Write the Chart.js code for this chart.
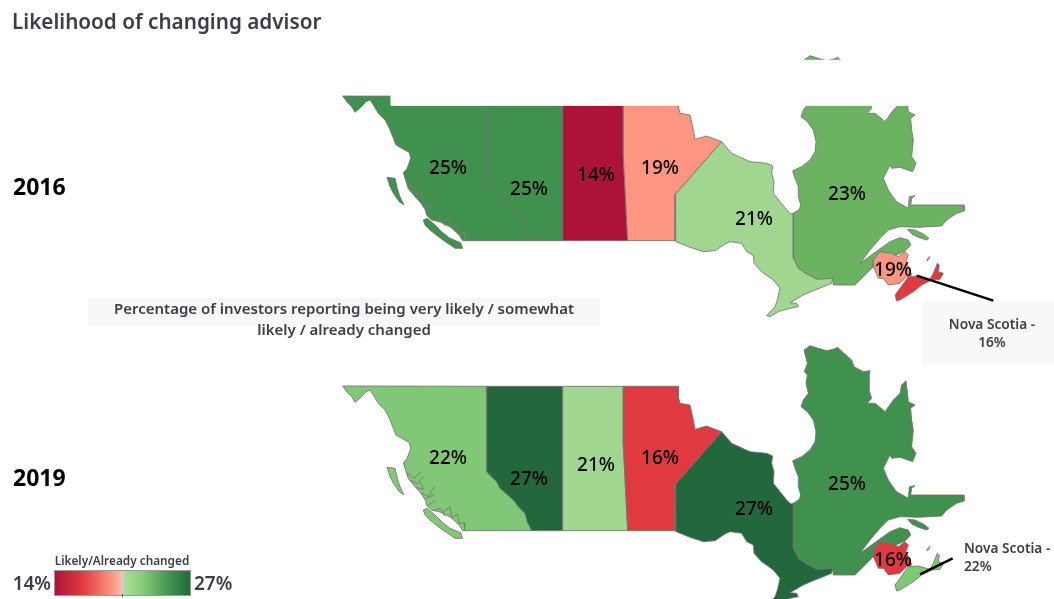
<!DOCTYPE html>
<html lang="en">
<head>
<meta charset="UTF-8">
<title>Likelihood of changing advisor</title>
<script src="https://cdn.jsdelivr.net/npm/chart.js@4/dist/chart.umd.min.js"></script>
<style>
  html, body { margin: 0; background: #fff; }
  canvas { display: block; }
</style>
</head>
<body>
<canvas id="mapChart" width="1054" height="599"></canvas>
<script>
// survey results, one value per province
const provinces = ['BC', 'AB', 'SK', 'MB', 'ON', 'QC', 'NB', 'NS'];
const values2016 = [25, 25, 14, 19, 21, 23, 19, 16];
const values2019 = [22, 27, 21, 16, 27, 25, 16, 22];
const years = ['2016', '2019'];

// colour ramp, same one the legend shows
const rampValues = [14, 16, 19, 21, 22, 23, 25, 27];
const rampColors = ['#ad1238', '#e0393f', '#fc9680', '#a0d68f', '#80c776', '#6bb360', '#40904e', '#23673d'];

// province outlines. west ones start at x=1020, east ones at x=2010
const bcBorder = [[440,139],[440,395],[452,408],[470,425],[480,445],[500,462],[520,480],[535,500],[555,520],[562,545],[575,572]];
const bcCoast = [[372,572],[368,572],[358,556],[350,548],[332,532],[300,516],[275,510],[260,496],[256,480],[240,456],[225,440],[205,416],[198,395],[190,368],[200,358],[205,345],[212,325],[208,308],[185,295],[168,285],[160,265],[148,235],[135,210],[115,190],[100,165],[90,150],[78,155],[65,170],[45,187],[35,170],[20,155],[8,138]];
const bcMain = [[8,138], ...bcBorder, ...bcCoast];
const vancouverIsland = [[250,510],[262,505],[285,525],[305,545],[330,565],[362,578],[368,595],[345,595],[320,578],[295,560],[270,540],[255,525]];
const haidaGwaii = [[141,382],[165,385],[172,415],[180,440],[192,465],[178,455],[160,430],[150,410]];
const fjords = [
    [[200,398],[222,415],[245,395]],
    [[212,420],[232,432],[250,408]],
    [[228,442],[250,448],[240,425]],
    [[242,458],[265,470],[285,438]],
    [[256,478],[285,462]],
    [[262,497],[285,482]],
    [[280,512],[300,505],[315,528]],
    [[308,518],[330,500],[336,535]],
    [[335,535],[352,522],[358,552]],
    [[352,552],[372,548],[374,570]]
];
const alberta = [...bcBorder, [668,572], [668,139]];
const saskatchewan = [[668,139],[850,139],[850,318],[863,572],[668,572]];
const manitoba = [[850,139],[1015,139],[1015,170],[1020,190],[1050,195],[1060,240],[1065,268],[1100,258],[1145,275],[1007,432],[1005,572],[863,572],[850,318]];

const quebecBorder = [[370,490],[370,625],[385,655],[410,672],[440,688],[488,685]];
const ontario = [[155,275],[185,310],[240,335],[290,340],[308,348],[305,370],[312,395],[310,430],[330,455],[350,480],[362,492],...quebecBorder,[485,700],[460,710],[430,722],[400,735],[360,758],[380,760],[385,770],[360,775],[325,785],[300,800],[290,797],[315,770],[322,750],[330,715],[310,690],[275,665],[252,640],[250,615],[230,605],[215,580],[180,575],[165,582],[135,602],[100,605],[60,592],[18,575],[15,572],[17,432]];
const quebec = [[370,490],[388,478],[392,465],[385,440],[385,410],[375,385],[368,362],[395,350],[420,330],[435,305],[438,275],[430,240],[412,215],[393,200],[400,180],[415,160],[408,130],[412,105],[403,95],[412,70],[402,30],[420,17],[445,25],[470,32],[490,28],[503,22],[520,38],[545,60],[552,80],[580,95],[600,92],[597,110],[597,150],[605,175],[592,190],[615,190],[640,210],[645,215],[670,180],[690,160],[695,135],[708,122],[712,155],[715,185],[735,195],[722,205],[725,240],[730,270],[725,320],[738,340],[728,365],[690,352],[665,355],[660,345],[650,365],[640,385],[655,420],[665,435],[680,455],[715,475],[718,440],[735,437],[725,445],[722,465],[882,465],[882,483],[860,490],[830,510],[815,528],[745,532],[690,530],[655,540],[630,565],[600,600],[570,640],[595,622],[625,600],[660,575],[690,563],[715,570],[722,585],[705,603],[672,618],[625,610],[610,630],[610,650],[590,670],[570,690],[555,705],[490,705],[488,685],[440,688],[410,672],[385,655],[370,625]];
const anticosti = [[713,538],[735,540],[760,552],[777,565],[770,570],[745,562],[725,552]];
const newBrunswick = [[610,630],[630,605],[665,610],[685,620],[705,605],[715,615],[708,635],[715,650],[725,675],[710,680],[690,700],[655,705],[640,685],[625,685],[610,650]];
const novaScotia = [[675,735],[690,715],[715,680],[745,678],[780,688],[790,670],[802,640],[808,645],[805,665],[820,670],[810,688],[785,690],[755,705],[730,725],[690,750],[680,753]];
const pei = [[770,632],[775,622],[780,620],[776,630]];

// leader lines to the Nova Scotia notes
const leader2016 = [[740,677],[970,752]];
const leader2019 = [[750,703],[848,655]];

const WEST = 1020, EAST = 2010;
const YEAR_Y = [150, 1020];
// the 2016 map is hidden behind a white band on top
const maskBand = [[1173,181],[3162,181],[3162,316],[1173,316]];

const labelX = [1344, 1587, 1788, 1980, 2262, 2541, 2679];
const labelY = [504, 567, 525, 504, 657, 582, 810];

function colorOf(v) {
    return rampColors[rampValues.indexOf(v)];
}

function place(pts, dx, dy) {
    return pts.map(p => ({x: p[0] + dx, y: p[1] + dy}));
}

function shape(pts, color, border) {
    return {
        data: pts.concat([pts[0]]),
        showLine: true,
        fill: 'shape',
        backgroundColor: color,
        borderColor: border,
        borderWidth: 1,
        pointRadius: 0,
        tension: 0
    };
}

function stroke(pts, color, width) {
    return {data: pts, showLine: true, fill: false, borderColor: color, borderWidth: width, pointRadius: 0, tension: 0};
}

const datasets = [];
years.forEach((year, i) => {
    const vals = i == 0 ? values2016 : values2019;
    const dy = YEAR_Y[i];
    const edge = 'rgba(115,115,115,0.85)';
    const add = (outline, dx, name) => datasets.push(shape(place(outline, dx, dy), colorOf(vals[provinces.indexOf(name)]), edge));
    add(bcMain, WEST, 'BC');
    add(vancouverIsland, WEST, 'BC');
    add(haidaGwaii, WEST, 'BC');
    fjords.forEach(f => datasets.push(stroke(place(f, WEST, dy), '#7d7d7d', 1)));
    add(alberta, WEST, 'AB');
    add(saskatchewan, WEST, 'SK');
    add(manitoba, WEST, 'MB');
    add(quebec, EAST, 'QC');
    add(anticosti, EAST, 'QC');
    add(ontario, EAST, 'ON');
    add(newBrunswick, EAST, 'NB');
    add(novaScotia, EAST, 'NS');
    datasets.push(shape(place(pei, EAST, dy), '#e4e4e4', edge));
    if (i == 0) datasets.push(shape(place(maskBand, 0, 0), '#ffffff', '#ffffff'));
    const lead = i == 0 ? leader2016 : leader2019;
    datasets.push(stroke(place(lead, EAST, dy), '#000', 2.5));
});
// chart.js paints dataset 0 last, we want them in list order
datasets.forEach((d, i) => { d.order = datasets.length - i; });

const textColor = '#3d3d47';

function put(ctx, str, x, y, font, color, align) {
    ctx.font = font;
    ctx.fillStyle = color;
    ctx.textAlign = align || 'left';
    ctx.textBaseline = 'middle';
    ctx.fillText(str, x, y + 1.5);
}

const decor = {
    id: 'decor',
    beforeDatasetsDraw(chart) {
        const ctx = chart.ctx;
        ctx.save();
        ctx.fillStyle = '#f8f8f8';
        ctx.fillRect(88, 298, 512, 28);
        ctx.fillRect(922, 301, 132, 64);
        ctx.restore();
    },
    afterDatasetsDraw(chart) {
        const ctx = chart.ctx;
        const sx = chart.scales.x, sy = chart.scales.y;
        ctx.save();
        put(ctx, 'Likelihood of changing advisor', 12, 22, '600 20.7px "Noto Sans"', textColor);
        put(ctx, years[0], 13, 187, '700 23px "Noto Sans"', '#000');
        put(ctx, years[1], 13, 478, '700 23px "Noto Sans"', '#000');
        put(ctx, 'Percentage of investors reporting being very likely / somewhat', 344, 308, '600 15px "Noto Sans"', textColor, 'center');
        put(ctx, 'likely / already changed', 344, 329, '600 15px "Noto Sans"', textColor, 'center');
        put(ctx, 'Nova Scotia -', 992, 323.5, '600 13.7px "Noto Sans"', textColor, 'center');
        put(ctx, values2016[7] + '%', 992, 342, '600 13.7px "Noto Sans"', textColor, 'center');
        put(ctx, 'Nova Scotia -', 964, 548, '600 13.7px "Noto Sans"', textColor);
        put(ctx, values2019[7] + '%', 964, 566, '600 13.7px "Noto Sans"', textColor);

        // province value labels, Nova Scotia has its note instead
        years.forEach((year, i) => {
            const vals = i == 0 ? values2016 : values2019;
            labelX.forEach((lx, p) => {
                const ly = labelY[p] + YEAR_Y[i] - YEAR_Y[0];
                put(ctx, vals[p] + '%', sx.getPixelForValue(lx), sy.getPixelForValue(ly) - 1, '500 19px "Noto Sans"', '#000', 'center');
            });
        });

        // legend
        const g = ctx.createLinearGradient(55, 0, 190, 0);
        g.addColorStop(0, '#ad1238');
        g.addColorStop(0.2, '#e0393f');
        g.addColorStop(0.42, '#fc9680');
        g.addColorStop(0.485, '#ffb3a3');
        g.addColorStop(0.5, '#cfcfcf');
        g.addColorStop(0.52, '#a8dc98');
        g.addColorStop(0.65, '#88cc78');
        g.addColorStop(0.82, '#4a9a55');
        g.addColorStop(1, '#1f6b3c');
        ctx.fillStyle = g;
        ctx.fillRect(55, 571, 135, 24);
        ctx.strokeStyle = '#9a9a9a';
        ctx.lineWidth = 1;
        ctx.strokeRect(54.5, 570.5, 136, 25);
        ctx.strokeStyle = '#555';
        ctx.beginPath();
        ctx.moveTo(122.5, 594);
        ctx.lineTo(122.5, 597);
        ctx.stroke();
        put(ctx, 'Likely/Already changed', 122, 560, '600 11.8px "Noto Sans"', textColor, 'center');
        put(ctx, rampValues[0] + '%', 51, 583, '600 19px "Noto Sans"', textColor, 'right');
        put(ctx, rampValues[rampValues.length - 1] + '%', 194, 583, '600 19px "Noto Sans"', textColor);
        ctx.restore();
    }
};

new Chart(document.getElementById('mapChart').getContext('2d'), {
    type: 'scatter',
    data: {datasets: datasets},
    options: {
        responsive: false,
        animation: false,
        layout: {padding: 0},
        plugins: {legend: {display: false}, tooltip: {enabled: false}, title: {display: false}},
        scales: {
            x: {type: 'linear', display: false, min: 0, max: 3162},
            y: {type: 'linear', display: false, min: 0, max: 1797, reverse: true}
        }
    },
    plugins: [decor]
});
</script>
</body>
</html>
